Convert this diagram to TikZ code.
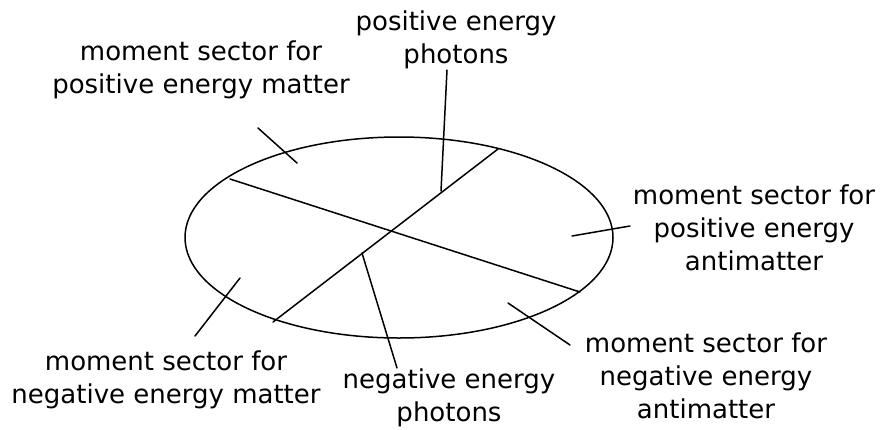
\documentclass[tikz,border=0pt]{standalone}
\usepackage{fontspec}
\setmainfont{DejaVu Sans}
\begin{document}
\begin{tikzpicture}[x=1pt,y=-1pt,
  ln/.style={line width=1.5pt,line cap=round},
  lbl/.style={align=center,inner sep=0pt,font=\fontsize{26}{33}\selectfont}]
\useasboundingbox (0,0) rectangle (880,429);
% ellipse
\draw[ln] (399,237.5) ellipse [x radius=214pt, y radius=100.5pt];
% diameters
\coordinate (a1) at (230,179);
\coordinate (a2) at (580,292);
\coordinate (b1) at (498,149);
\coordinate (b2) at (273,322);
\draw[ln] (a1) -- (a2);
\draw[ln] (b1) -- (b2);
% labels
\node[lbl] (pp) at (456,40) {positive energy\\photons};
\node[lbl] (pm) at (201,70) {moment sector for\\positive energy matter};
\node[lbl] (pa) at (754,228) {moment sector for\\positive energy\\antimatter};
\node[lbl] (na) at (706,376) {moment sector for\\negative energy\\antimatter};
\node[lbl] (np) at (449,398) {negative energy\\photons};
\node[lbl] (nm) at (166,380) {moment sector for\\negative energy matter};
% pointers
\coordinate (pp1) at (447,70);
\coordinate (pp2) at (441,191);
\coordinate (np1) at (362,253);
\coordinate (np2) at (397,368);
\coordinate (pm1) at (258,128);
\coordinate (pm2) at (297,163);
\coordinate (pa1) at (572,236);
\coordinate (pa2) at (630,226);
\coordinate (nm1) at (240,278);
\coordinate (nm2) at (195,336);
\coordinate (na1) at (508,303);
\coordinate (na2) at (570,345);
\draw[ln] (pp1) -- (pp2);
\draw[ln] (np1) -- (np2);
\draw[ln] (pm1) -- (pm2);
\draw[ln] (pa1) -- (pa2);
\draw[ln] (nm1) -- (nm2);
\draw[ln] (na1) -- (na2);
\end{tikzpicture}
\end{document}
